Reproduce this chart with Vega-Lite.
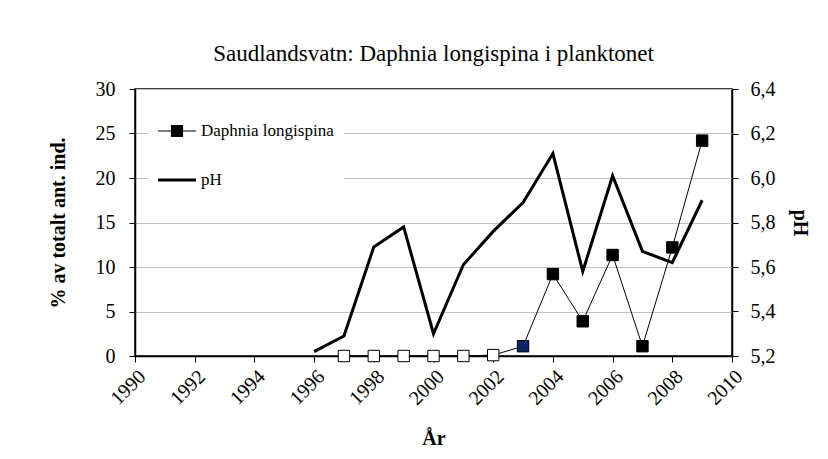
{
  "$schema": "https://vega.github.io/schema/vega-lite/v6.json",
  "autosize": {"type": "none"},
  "padding": {"left": 135, "top": 89, "right": 96, "bottom": 103},
  "width": 597,
  "height": 267,
  "background": "white",
  "title": {
    "text": "Saudlandsvatn: Daphnia longispina i planktonet",
    "font": "Times New Roman, Liberation Serif, serif",
    "fontSize": 23,
    "fontWeight": "normal",
    "color": "black",
    "offset": 13
  },
  "config": {
    "view": {"stroke": "black", "strokeWidth": 1.5},
    "axis": {
      "labelFont": "Times New Roman, Liberation Serif, serif",
      "labelFontSize": 20,
      "labelColor": "black",
      "titleFont": "Times New Roman, Liberation Serif, serif",
      "titleFontSize": 20,
      "titleFontWeight": "bold",
      "titleColor": "black",
      "domainColor": "black",
      "domainWidth": 1.5,
      "tickColor": "black",
      "tickWidth": 1,
      "tickSize": 6
    }
  },
  "data": {
    "values": [
      {"year": 1996, "daphnia": null, "pH": 5.22, "gruppe": null},
      {"year": 1997, "daphnia": 0, "pH": 5.29, "gruppe": "ikke påvist"},
      {"year": 1998, "daphnia": 0, "pH": 5.69, "gruppe": "ikke påvist"},
      {"year": 1999, "daphnia": 0, "pH": 5.78, "gruppe": "ikke påvist"},
      {"year": 2000, "daphnia": 0, "pH": 5.30, "gruppe": "ikke påvist"},
      {"year": 2001, "daphnia": 0, "pH": 5.61, "gruppe": "ikke påvist"},
      {"year": 2002, "daphnia": 0.1, "pH": 5.76, "gruppe": "ikke påvist"},
      {"year": 2003, "daphnia": 1.1, "pH": 5.89, "gruppe": "2003"},
      {"year": 2004, "daphnia": 9.2, "pH": 6.11, "gruppe": "påvist"},
      {"year": 2005, "daphnia": 3.9, "pH": 5.58, "gruppe": "påvist"},
      {"year": 2006, "daphnia": 11.35, "pH": 6.01, "gruppe": "påvist"},
      {"year": 2007, "daphnia": 1.1, "pH": 5.67, "gruppe": "påvist"},
      {"year": 2008, "daphnia": 12.2, "pH": 5.62, "gruppe": "påvist"},
      {"year": 2009, "daphnia": 24.2, "pH": 5.90, "gruppe": "påvist"}
    ]
  },
  "encoding": {
    "x": {
      "field": "year",
      "type": "quantitative",
      "scale": {"domain": [1990, 2010], "nice": false, "zero": false},
      "axis": {
        "values": [1990, 1992, 1994, 1996, 1998, 2000, 2002, 2004, 2006, 2008, 2010],
        "format": "d",
        "labelAngle": -45,
        "labelPadding": 4,
        "grid": false,
        "title": "År",
        "titlePadding": 20
      }
    }
  },
  "layer": [
    {
      "encoding": {
        "y": {
          "field": "daphnia",
          "type": "quantitative",
          "scale": {"domain": [0, 30], "nice": false},
          "axis": {
            "values": [0, 5, 10, 15, 20, 25, 30],
            "title": "% av totalt ant. ind.",
            "grid": true,
            "gridColor": "#c0c0c0",
            "gridWidth": 1,
            "labelPadding": 14,
            "titlePadding": 27
          }
        }
      },
      "layer": [
        {
          "mark": {"type": "line", "color": "black", "strokeWidth": 1}
        },
        {
          "mark": {"type": "point", "shape": "square", "size": 130, "filled": true, "stroke": "black", "strokeWidth": 1, "opacity": 1},
          "encoding": {
            "fill": {
              "field": "gruppe",
              "type": "nominal",
              "scale": {"domain": ["ikke påvist", "2003", "påvist"], "range": ["white", "#0b2466", "black"]},
              "legend": null
            }
          }
        },
        {
          "transform": [{"fold": ["daphnia", "pH"], "as": ["serie", "verdi"]}],
          "mark": {"type": "point", "filled": true, "color": "black", "opacity": 0},
          "encoding": {
            "shape": {
              "field": "serie",
              "type": "nominal",
              "scale": {"domain": ["daphnia", "pH"], "range": ["M-1,-0.03H1V0.03H-1ZM-0.32,-0.32H0.32V0.32H-0.32Z", "M-1,-0.08H1V0.08H-1Z"]},
              "legend": {
                "orient": "top-left",
                "title": null,
                "fillColor": "white",
                "offset": 13,
                "padding": 10,
                "labelFont": "Times New Roman, Liberation Serif, serif",
                "labelFontSize": 17,
                "labelColor": "black",
                "labelOffset": 5,
                "symbolSize": 1444,
                "symbolOpacity": 1,
                "symbolFillColor": "black",
                "symbolStrokeColor": "black",
                "symbolStrokeWidth": 0,
                "rowPadding": 22,
                "labelExpr": "datum.value == 'daphnia' ? 'Daphnia longispina' : 'pH'"
              }
            }
          }
        }
      ]
    },
    {
      "mark": {"type": "line", "color": "black", "strokeWidth": 3},
      "encoding": {
        "y": {
          "field": "pH",
          "type": "quantitative",
          "scale": {"domain": [5.2, 6.4], "nice": false, "zero": false},
          "axis": {
            "orient": "right",
            "values": [5.2, 5.4, 5.6, 5.8, 6.0, 6.2, 6.4],
            "labelExpr": "replace(format(datum.value, '.1f'), '.', ',')",
            "title": "pH",
            "grid": false,
            "labelPadding": 12,
            "titlePadding": 14
          }
        }
      }
    }
  ],
  "resolve": {"scale": {"y": "independent"}}
}
